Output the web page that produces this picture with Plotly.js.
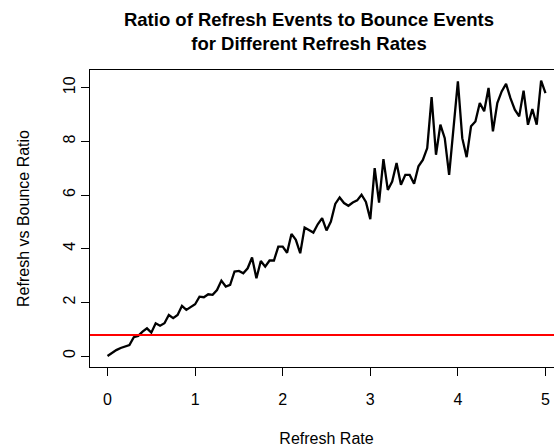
<!DOCTYPE html>
<html>
<head>
<meta charset="utf-8">
<script src="https://cdn.plot.ly/plotly-3.0.1.min.js"></script>
<style>
html, body { margin: 0; padding: 0; overflow: hidden; background: #fff; width: 554px; height: 447px; }
#chart { width: 600px; height: 447px; }
</style>
</head>
<body>
<div id="chart"></div>
<script>
const refreshRate = [
  0.00, 0.05, 0.10, 0.15, 0.20, 0.25, 0.30, 0.35, 0.40, 0.45,
  0.50, 0.55, 0.60, 0.65, 0.70, 0.75, 0.80, 0.85, 0.90, 0.95,
  1.00, 1.05, 1.10, 1.15, 1.20, 1.25, 1.30, 1.35, 1.40, 1.45,
  1.50, 1.55, 1.60, 1.65, 1.70, 1.75, 1.80, 1.85, 1.90, 1.95,
  2.00, 2.05, 2.10, 2.15, 2.20, 2.25, 2.30, 2.35, 2.40, 2.45,
  2.50, 2.55, 2.60, 2.65, 2.70, 2.75, 2.80, 2.85, 2.90, 2.95,
  3.00, 3.05, 3.10, 3.15, 3.20, 3.25, 3.30, 3.35, 3.40, 3.45,
  3.50, 3.55, 3.60, 3.65, 3.70, 3.75, 3.80, 3.85, 3.90, 3.95,
  4.00, 4.05, 4.10, 4.15, 4.20, 4.25, 4.30, 4.35, 4.40, 4.45,
  4.50, 4.55, 4.60, 4.65, 4.70, 4.75, 4.80, 4.85, 4.90, 4.95,
  5.00
];
const ratio = [
  0.00, 0.12, 0.22, 0.30, 0.37, 0.41, 0.70, 0.75, 0.91, 1.03,
  0.87, 1.22, 1.13, 1.22, 1.53, 1.41, 1.53, 1.87, 1.72, 1.84,
  1.93, 2.21, 2.19, 2.30, 2.28, 2.46, 2.81, 2.59, 2.65, 3.15,
  3.17, 3.08, 3.27, 3.67, 2.90, 3.54, 3.33, 3.56, 3.56, 4.08,
  4.08, 3.85, 4.55, 4.33, 3.83, 4.79, 4.70, 4.60, 4.91, 5.14,
  4.68, 5.01, 5.67, 5.91, 5.70, 5.60, 5.72, 5.80, 6.01, 5.74,
  5.10, 7.00, 5.72, 7.34, 6.19, 6.50, 7.19, 6.38, 6.75, 6.75,
  6.42, 7.07, 7.31, 7.75, 9.65, 7.50, 8.62, 8.12, 6.75, 8.45,
  10.24, 8.12, 7.41, 8.56, 8.74, 9.43, 9.12, 9.99, 8.37, 9.43,
  9.86, 10.14, 9.61, 9.18, 8.93, 9.89, 8.62, 9.20, 8.62, 10.26,
  9.80
];
const thresholdRatio = 0.78;
const xTicks = [0, 1, 2, 3, 4, 5];
const yTicks = [0, 2, 4, 6, 8, 10];

const font = { family: "Liberation Sans, Arial, sans-serif", color: "#000", size: 16 };

const traces = [{
  x: refreshRate,
  y: ratio,
  type: "scatter",
  mode: "lines",
  line: { color: "#000", width: 2.3 },
  hoverinfo: "skip",
  showlegend: false
}];

const layout = {
  width: 600,
  height: 447,
  margin: { l: 90, r: 37, t: 70, b: 80 },
  paper_bgcolor: "#fff",
  plot_bgcolor: "#fff",
  font: font,
  showlegend: false,
  title: {
    text: "<b>Ratio of Refresh Events to Bounce Events<br>for Different Refresh Rates</b>",
    font: { family: font.family, size: 18.5, color: "#000" },
    xref: "container", x: 309 / 600, xanchor: "center",
    yref: "container", y: 1 - 26 / 447, yanchor: "top"
  },
  xaxis: {
    range: [-0.2, 5.2],
    tickvals: xTicks,
    ticktext: xTicks.map(String),
    ticks: "outside", ticklen: 8, tickwidth: 1, tickcolor: "#000",
    showline: true, mirror: true, linecolor: "#000", linewidth: 1,
    showgrid: false, zeroline: false,
    tickfont: { family: font.family, size: 16, color: "#000" },
    ticklabelstandoff: 10,
    title: { text: "Refresh Rate", font: { family: font.family, size: 16, color: "#000" }, standoff: 26 }
  },
  yaxis: {
    range: [-0.41, 10.66],
    tickvals: yTicks,
    ticktext: yTicks.map(String),
    tickangle: -90,
    ticks: "outside", ticklen: 8, tickwidth: 1, tickcolor: "#000",
    showline: true, mirror: true, linecolor: "#000", linewidth: 1,
    showgrid: false, zeroline: false,
    tickfont: { family: font.family, size: 16, color: "#000" },
    ticklabelstandoff: 0,
    title: { text: "Refresh vs Bounce Ratio", font: { family: font.family, size: 16, color: "#000" }, standoff: 26 }
  },
  shapes: [{
    type: "line", xref: "paper", x0: 0, x1: 1,
    yref: "y", y0: thresholdRatio, y1: thresholdRatio,
    line: { color: "#ff0000", width: 2 }
  }]
};

Plotly.newPlot("chart", traces, layout, { displayModeBar: false, staticPlot: true });
</script>
</body>
</html>
